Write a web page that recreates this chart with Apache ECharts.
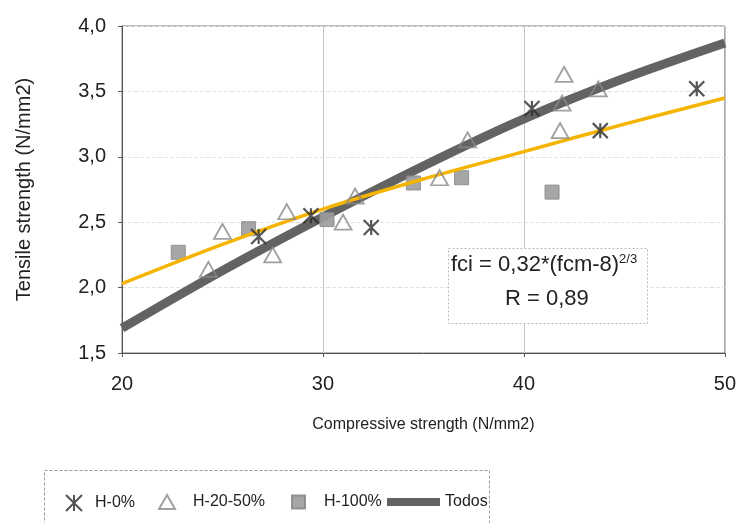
<!DOCTYPE html>
<html>
<head>
<meta charset="utf-8">
<script src="https://cdn.jsdelivr.net/npm/echarts@6/dist/echarts.min.js"></script>
<style>
  html, body { margin: 0; padding: 0; background: #fff; }
  #chart { width: 739px; height: 523px; }
</style>
</head>
<body>
<div id="chart"></div>
<script>
// data
const h0 = [[26.8, 2.39], [29.4, 2.55], [32.4, 2.46], [40.4, 3.37], [43.8, 3.20], [48.6, 3.52]]
const h2050 = [[24.3, 2.14], [25.0, 2.43], [27.5, 2.25], [28.2, 2.58], [31.0, 2.50], [31.6, 2.70],
  [35.8, 2.84], [37.2, 3.13], [41.8, 3.20], [41.9, 3.41], [42.0, 3.63], [43.7, 3.52]]
const h100 = [[22.8, 2.27], [26.3, 2.45], [30.2, 2.52], [34.5, 2.80], [36.9, 2.84], [41.4, 2.73]]
const todos = [[20, 1.69], [25, 2.13], [30, 2.54], [35, 2.93], [40, 3.29], [45, 3.60], [50, 3.87]]
const fit = [[20, 2.03], [25, 2.33], [30, 2.60], [35, 2.83], [40, 3.04], [45, 3.25], [50, 3.45]]
const xTicks = { min: 20, max: 50, step: 10 }
const yTicks = { min: 1.5, max: 4.0, step: 0.5 }

const FONT = 'Liberation Sans'
const starIcon = 'path://M5 0 L5 10 M0 0 L10 10 M10 0 L0 10'

const chart = echarts.init(document.getElementById('chart'))

const legendBase = {
  top: 489,
  orient: 'horizontal',
  textStyle: { fontFamily: FONT, fontSize: 16, color: '#222' },
  selectedMode: false,
}

const option = {
  backgroundColor: '#fff',
  animation: false,
  grid: {
    left: 122, right: 14, top: 26, bottom: 170,
    show: true, borderColor: '#777', borderWidth: 1,
  },
  xAxis: {
    type: 'value',
    min: xTicks.min, max: xTicks.max, interval: xTicks.step,
    name: 'Compressive strength (N/mm2)',
    nameLocation: 'middle', nameGap: 64,
    nameTextStyle: { fontFamily: FONT, fontSize: 16, color: '#222' },
    axisLine: { show: true, lineStyle: { color: '#555' } },
    axisTick: { show: true, length: 4, lineStyle: { color: '#555' } },
    axisLabel: { fontFamily: FONT, fontSize: 20, color: '#222', margin: 21 },
    splitLine: { show: true, lineStyle: { color: '#c4c4c4' } },
  },
  yAxis: {
    type: 'value',
    min: yTicks.min, max: yTicks.max, interval: yTicks.step,
    name: 'Tensile strength (N/mm2)',
    nameLocation: 'middle', nameGap: 88, nameRotate: 90,
    nameTextStyle: { fontFamily: FONT, fontSize: 20, color: '#222' },
    axisLine: { show: true, lineStyle: { color: '#555' } },
    axisTick: { show: true, length: 4, inside: false, lineStyle: { color: '#555' } },
    axisLabel: {
      fontFamily: FONT, fontSize: 20, color: '#222', margin: 16,
      formatter: (v) => v.toFixed(1).replace('.', ','),
    },
    splitLine: { show: true, lineStyle: { color: '#e2e2e2', type: 'dashed' } },
  },
  legend: [
    { ...legendBase, left: 60, data: ['H-0%'], itemWidth: 16, itemHeight: 16,
      textStyle: { ...legendBase.textStyle, padding: [0, 0, 0, 8] } },
    { ...legendBase, left: 153, data: ['H-20-50%'], itemWidth: 16, itemHeight: 14,
      textStyle: { ...legendBase.textStyle, padding: [0, 0, 0, 13] } },
    { ...legendBase, left: 286, data: ['H-100%'], itemWidth: 13, itemHeight: 13,
      textStyle: { ...legendBase.textStyle, padding: [0, 0, 0, 14] } },
    { ...legendBase, left: 382, data: [{ name: 'Todos', icon: 'rect' }], itemWidth: 53, itemHeight: 8,
      textStyle: { ...legendBase.textStyle, padding: [0, 0, 0, 0] } },
  ],
  graphic: [
    {
      type: 'rect', left: 42, top: 468, silent: true,
      shape: { width: 445, height: 70 },
      style: { fill: 'none', stroke: '#999', lineWidth: 1, lineDash: [3, 2] },
    },
    {
      type: 'rect', left: 448, top: 248, silent: true, z: 10,
      shape: { width: 199, height: 75 },
      style: { fill: '#fff', stroke: '#bbb', lineWidth: 1, lineDash: [2, 2] },
    },
    {
      type: 'text', left: 451, top: 253, z: 11, silent: true,
      style: {
        text: '{a|fci = 0,32*(fcm-8)}{s|2/3}',
        rich: {
          a: { fontFamily: FONT, fontSize: 22, fill: '#222' },
          s: { fontFamily: FONT, fontSize: 13, fill: '#222', verticalAlign: 'top', padding: [0, 0, 10, 0] },
        },
      },
    },
    {
      type: 'text', left: 505, top: 288, z: 11, silent: true,
      style: { text: 'R = 0,89', fontFamily: FONT, fontSize: 22, fill: '#222' },
    },
  ],
  series: [
    {
      name: 'Todos', type: 'line', data: todos, smooth: 0.3, showSymbol: false, symbol: 'none',
      z: 2,
      itemStyle: { color: '#636363' },
      lineStyle: { color: '#636363', width: 9 },
    },
    {
      name: 'Ajuste', type: 'line', data: fit, smooth: 0.3, showSymbol: false, symbol: 'none',
      z: 4,
      lineStyle: { color: '#f4b400', width: 3.5 },
    },
    {
      name: 'H-0%', type: 'scatter', data: h0, symbol: starIcon, symbolSize: 15, z: 5,
      itemStyle: { color: 'rgba(0,0,0,0)', borderColor: '#2b2b2b', borderWidth: 2.2 },
    },
    {
      name: 'H-20-50%', type: 'scatter', data: h2050, symbol: 'triangle', symbolSize: [17, 15], z: 5,
      itemStyle: { color: 'rgba(255,255,255,0)', borderColor: '#888', borderWidth: 1.8 },
    },
    {
      name: 'H-100%', type: 'scatter', data: h100, symbol: 'rect', symbolSize: 14, z: 3,
      itemStyle: { color: '#9c9c9c', borderColor: '#8a8a8a', borderWidth: 1, opacity: 0.9 },
    },
  ],
}

chart.setOption(option)
</script>
</body>
</html>
